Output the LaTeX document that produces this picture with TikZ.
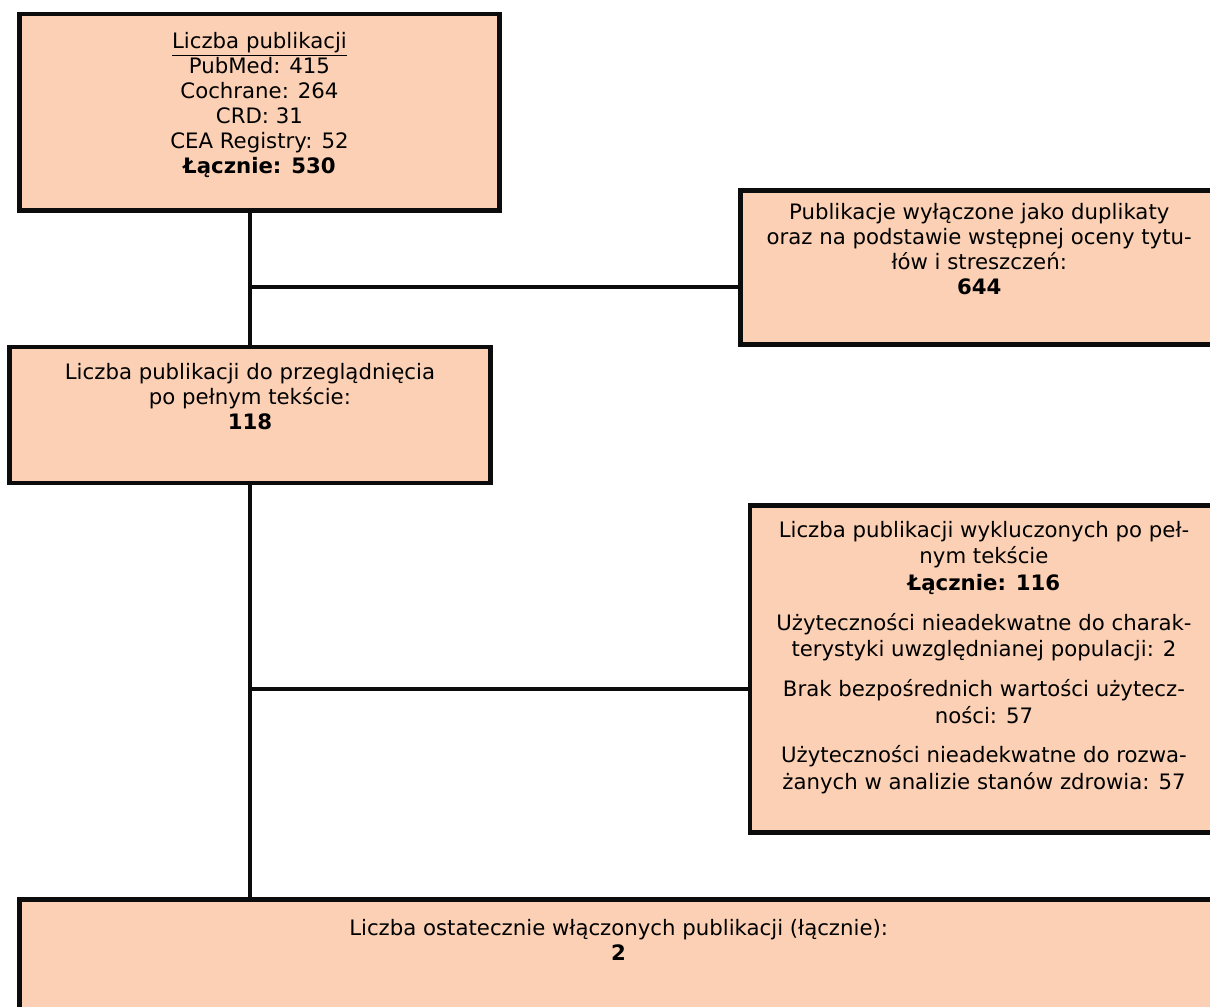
\documentclass[tikz,border=0pt]{standalone}
\usepackage{fontspec}
\setmainfont{DejaVu Sans}
\usepackage{tikz}
\usetikzlibrary{positioning,calc}
\definecolor{prismapeach}{RGB}{251, 208, 180}
\definecolor{prismaborder}{RGB}{12, 12, 12}

\begin{document}
\begin{tikzpicture}[x=0.02cm, y=-0.02cm,
    box/.style={draw=prismaborder, line width=2.6pt, fill=prismapeach, rectangle, anchor=north west, outer sep=0pt, inner sep=0pt},
    tekst/.style={align=center, inner sep=0pt, font=\fontsize{12.1}{14.3}\selectfont},
    linia/.style={line width=2.3pt, prismaborder}]
            \useasboundingbox (0,0) rectangle (1210,1007);
            \clip (0,0) rectangle (1210,1007);

            % Boxes of the flow (right ones run past the page edge)
            \node [box, minimum width=9.6cm, minimum height=3.93cm] (zrodla) at (19.5,14) {};
            \node [box, minimum width=9.55cm, minimum height=3.08cm] (dupl) at (740.5,190.5) {};
            \node [box, minimum width=9.62cm, minimum height=2.72cm] (pelny) at (9.5,347) {};
            \node [box, minimum width=9.36cm, minimum height=6.54cm] (wykl) at (750,505.5) {};
            \node [box, minimum width=23.97cm, minimum height=3cm] (final) at (19.5,899.5) {};

            % Texts
            \node [tekst, below=0.35cm of zrodla.north] (zrodlatxt) {\underline{Liczba publikacji}\\PubMed: 415\\Cochrane: 264\\CRD: 31\\CEA Registry: 52\\\textbf{Łącznie: 530}};
            \node [tekst, below=0.24cm of dupl.north] (dupltxt) {Publikacje wyłączone jako duplikaty\\oraz na podstawie wstępnej oceny tytu-\\łów i streszczeń:\\\textbf{644}};
            \node [tekst, below=0.31cm of pelny.north] (pelnytxt) {Liczba publikacji do przeglądnięcia\\po pełnym tekście:\\\textbf{118}};
            \node [tekst, font=\fontsize{12.1}{15.2}\selectfont, below=0.3cm of wykl.north] (wykltxt) {Liczba publikacji wykluczonych po peł-\\nym tekście\\\textbf{Łącznie: 116}\\[0.26cm]Użyteczności nieadekwatne do charak-\\terystyki uwzględnianej populacji: 2\\[0.26cm]Brak bezpośrednich wartości użytecz-\\ności: 57\\[0.26cm]Użyteczności nieadekwatne do rozwa-\\żanych w analizie stanów zdrowia: 57};
            \node [tekst, below=0.38cm of final.north] (finaltxt) {Liczba ostatecznie włączonych publikacji (łącznie):\\\textbf{2}};

            % Connectors
            \coordinate (rozg1) at (250,287);
            \coordinate (rozg2) at (250,689);
            \draw[linia] (pelny.north |- zrodla.south) -- (pelny.north);
            \draw[linia] (rozg1) -- (rozg1 -| dupl.west);
            \draw[linia] (pelny.south) -- (pelny.south |- final.north);
            \draw[linia] (rozg2) -- (rozg2 -| wykl.west);
        \end{tikzpicture}
\end{document}
